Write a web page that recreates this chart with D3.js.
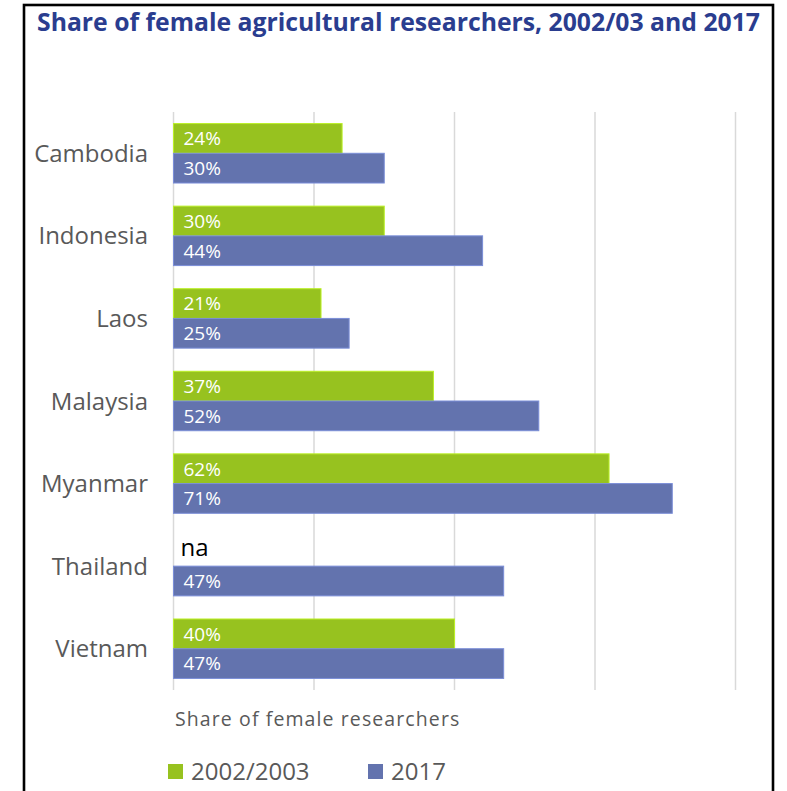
<!DOCTYPE html>
<meta charset="utf-8">
<style>
body { margin: 0; background: #fff; }
text { font-family: "Open Sans", sans-serif; }
.grid line { stroke: #d9d9d9; stroke-width: 1.5px; }
.cat text { fill: #595959; font-size: 24px; }
.val text { fill: #fff; font-size: 19px; }
</style>
<svg width="787" height="791"></svg>
<script src="https://cdn.jsdelivr.net/npm/d3@7"></script>
<script>

var countries = ["Cambodia", "Indonesia", "Laos", "Malaysia", "Myanmar", "Thailand", "Vietnam"];
var share2002 = [24, 30, 21, 37, 62, null, 40];
var share2017 = [30, 44, 25, 52, 71, 47, 47];
var seriesNames = ["2002/2003", "2017"];
var seriesColors = ["#97c21f", "#6373ae"];
var xTicks = [0, 20, 40, 60, 80];
var missingLabel = "na";

var svg = d3.select("svg");

// frame
svg.append("rect")
    .attr("x", 24).attr("y", 5)
    .attr("width", 749).attr("height", 820)
    .attr("fill", "none")
    .attr("stroke", "#000")
    .attr("stroke-width", 2.6);

svg.append("text")
    .attr("x", 37).attr("y", 31)
    .attr("textLength", 723)
    .attr("lengthAdjust", "spacingAndGlyphs")
    .style("font-size", "25px")
    .style("font-weight", "bold")
    .style("fill", "#2a3d8f")
    .text("Share of female agricultural researchers, 2002/03 and 2017");

var x = d3.scaleLinear().domain([0, 80]).range([173.5, 735.5]);

var y = d3.scaleBand().domain(countries).range([112, 690])
    .paddingInner(0.28).paddingOuter(0.14);

var ySub = d3.scaleBand().domain(seriesNames).range([0, y.bandwidth()]);

svg.append("g").attr("class", "grid")
  .selectAll("line")
  .data(xTicks)
  .enter().append("line")
    .attr("x1", function(d) { return x(d); })
    .attr("x2", function(d) { return x(d); })
    .attr("y1", 112).attr("y2", 690);

var rows = countries.map(function(c, i) {
  return { country: c, values: [share2002[i], share2017[i]] };
});

var group = svg.append("g")
  .selectAll("g")
  .data(rows)
  .enter().append("g")
    .attr("transform", function(d) { return "translate(0," + y(d.country) + ")"; });

var cells = group.selectAll("g")
  .data(function(d) {
    return d.values.map(function(v, j) { return { series: seriesNames[j], color: seriesColors[j], value: v }; });
  })
  .enter().append("g").attr("class", "val");

cells.filter(function(d) { return d.value != null; })
  .append("rect")
    .attr("x", x(0))
    .attr("y", function(d) { return ySub(d.series); })
    .attr("width", function(d) { return x(d.value) - x(0); })
    .attr("height", ySub.bandwidth())
    .attr("fill", function(d) { return d.color; })
    .attr("stroke", function(d) { return d3.color(d.color).brighter(0.6); })
    .attr("stroke-width", 1);

cells.filter(function(d) { return d.value != null; })
  .append("text")
    .attr("x", x(0) + 10)
    .attr("y", function(d) { return ySub(d.series) + ySub.bandwidth() / 2; })
    .attr("dy", "0.36em")
    .text(function(d) { return d.value + "%"; });

cells.filter(function(d) { return d.value == null; })
  .append("text")
    .attr("x", x(0) + 7)
    .attr("y", function(d) { return ySub(d.series) + ySub.bandwidth() / 2; })
    .attr("dy", "0.2em")
    .style("fill", "#000")
    .style("font-size", "24px")
    .text(missingLabel);

svg.append("g").attr("class", "cat")
  .selectAll("text")
  .data(countries)
  .enter().append("text")
    .attr("x", 148)
    .attr("y", function(d) { return y(d) + y.bandwidth() / 2; })
    .attr("dy", "0.36em")
    .attr("text-anchor", "end")
    .text(function(d) { return d; });

svg.append("text")
    .attr("x", 175).attr("y", 726)
    .style("font-size", "19.5px")
    .style("letter-spacing", "1.1px")
    .style("fill", "#595959")
    .text("Share of female researchers");

var legendX = [168, 368];
var legend = svg.append("g")
  .selectAll("g")
  .data(seriesNames)
  .enter().append("g")
    .attr("transform", function(d, i) { return "translate(" + legendX[i] + ",764)"; });

legend.append("rect")
    .attr("width", 15).attr("height", 15)
    .attr("fill", function(d, i) { return seriesColors[i]; });

legend.append("text")
    .attr("x", 23).attr("y", 16)
    .style("font-size", "24px")
    .style("fill", "#595959")
    .text(function(d) { return d; });

</script>
